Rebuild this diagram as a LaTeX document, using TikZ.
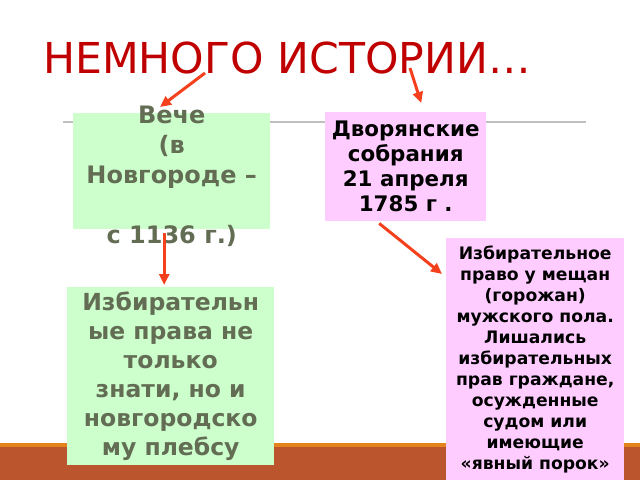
\documentclass[tikz,border=0pt]{standalone}
\usepackage{fontspec}
\setmainfont{DejaVu Sans}
\usepackage{tikz}
\usetikzlibrary{arrows.meta, positioning}
\definecolor{titlered}{RGB}{192,0,0}
\definecolor{arrowred}{RGB}{244,64,28}
\definecolor{boxgreen}{RGB}{204,255,204}
\definecolor{boxpink}{RGB}{255,204,255}
\definecolor{olivetext}{RGB}{98,109,84}
\definecolor{bandorange}{RGB}{228,130,30}
\definecolor{bandbrown}{RGB}{186,85,45}
\tikzstyle{arrow} = [arrowred, -{Triangle[length=11pt, width=10pt]}, line width=3pt]
\tikzstyle{greenbox} = [fill=boxgreen, inner sep=0pt, align=center, text=olivetext]
\tikzstyle{pinkbox} = [fill=boxpink, inner sep=0pt, align=center, text=black]

\begin{document}
\begin{tikzpicture}[x=1pt, y=-1pt]
        \useasboundingbox (0,0) rectangle (640,480);
        % Draw the band at the bottom
        \fill[bandbrown] (0,447) rectangle (640,480);
        \fill[bandorange] (0,443) rectangle (640,447);
        \draw[black!25, line width=1.5pt] (63,122) -- (586,122);

        % Title
        \node[anchor=base west, inner sep=0pt, text=titlered, font=\fontsize{42.6}{43}\selectfont] (title) at (43,73) {НЕМНОГО ИСТОРИИ…};

        % Draw the boxes
        \node[greenbox, anchor=north west, minimum width=197pt, minimum height=116pt,
            label={[text=olivetext, align=center, yshift=-5pt, font=\bfseries\fontsize{24}{30}\selectfont]center:{Вече\\(в\\Новгороде –\\[30pt]с 1136 г.)}}] (veche) at (73,113) {};
        \node[greenbox, anchor=north west, minimum width=207pt, minimum height=178pt,
            font=\bfseries\fontsize{23.5}{29}\selectfont] (rights) at (67,287)
            {Избирательн\\ые права не\\только\\знати, но и\\новгородско\\му плебсу};
        \node[pinkbox, anchor=north west, minimum width=161pt, minimum height=109pt,
            font=\bfseries\fontsize{21.4}{25}\selectfont] (dvor) at (325,112)
            {Дворянские\\собрания\\21 апреля\\1785 г .};
        \node[pinkbox, anchor=north west, minimum width=178pt, minimum height=242pt,
            font=\bfseries\fontsize{17.2}{21}\selectfont] (voters) at (446,238)
            {Избирательное\\право у мещан\\(горожан)\\мужского пола.\\Лишались\\избирательных\\прав граждане,\\осужденные\\судом или\\имеющие\\«явный порок»};

        % Draw the arrows
        \draw[arrow] ([xshift=162pt]title.base west) -- ([xshift=87pt, yshift=6pt]veche.north west);
        \draw[arrow] ([xshift=367pt, yshift=5pt]title.base west) -- ([xshift=15.5pt, yshift=9pt]dvor.north);
        \draw[arrow] ([xshift=-7.5pt, yshift=-4pt]veche.south) -- ([xshift=-6.5pt, yshift=2pt]rights.north);
        \draw[arrow] ([xshift=-26.5pt, yshift=-2pt]dvor.south) -- ([xshift=-4pt, yshift=-36pt]voters.north west);
    \end{tikzpicture}
\end{document}
